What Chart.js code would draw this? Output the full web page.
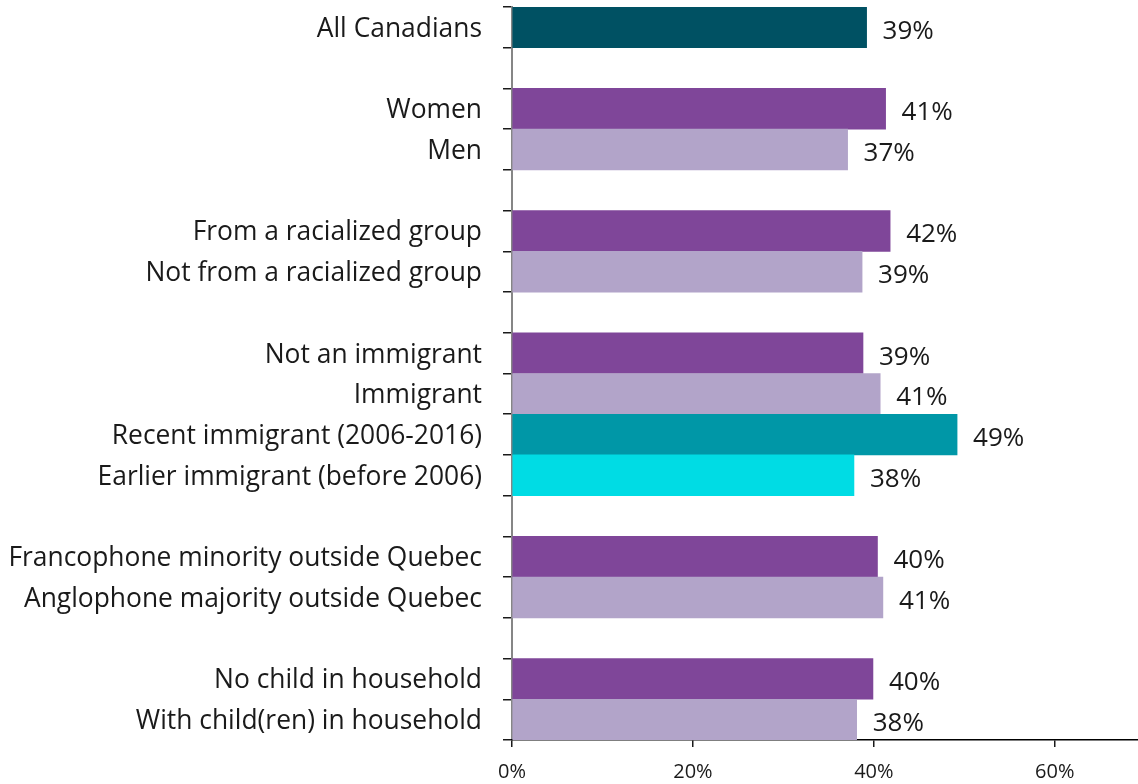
<!DOCTYPE html>
<html>
<head>
<meta charset="utf-8">
<script src="https://cdn.jsdelivr.net/npm/chart.js@4"></script>
<style>
  html, body { margin: 0; padding: 0; background: #fff; }
  #wrap { width: 1138px; height: 784px; position: relative; }
</style>
</head>
<body>
<div id="wrap"><canvas id="sharechart"></canvas></div>
<script>
// Rows top to bottom; empty labels are spacer rows between groups
var categories = [
    'All Canadians',
    '',
    'Women',
    'Men',
    '',
    'From a racialized group',
    'Not from a racialized group',
    '',
    'Not an immigrant',
    'Immigrant',
    'Recent immigrant (2006-2016)',
    'Earlier immigrant (before 2006)',
    '',
    'Francophone minority outside Quebec',
    'Anglophone majority outside Quebec',
    '',
    'No child in household',
    'With child(ren) in household'
];

// Percent of each group
var shares = [
    39.2, null,
    41.3, 37.1, null,
    41.8, 38.7, null,
    38.8, 40.7, 49.2, 37.8, null,
    40.4, 41.0, null,
    39.9, 38.1
];

var xTicks = [0, 20, 40, 60];

var barColours = [
    '#005163', null,
    '#7f4699', '#b2a4c9', null,
    '#7f4699', '#b2a4c9', null,
    '#7f4699', '#b2a4c9', '#0097a7', '#00dce4', null,
    '#7f4699', '#b2a4c9', null,
    '#7f4699', '#b2a4c9'
];

var FONT = "'Open Sans', 'Noto Sans', sans-serif";

// Writes "NN%" to the right of each bar
var valueLabels = {
    id: 'valueLabels',
    afterDatasetsDraw: function(chart) {
        var ctx = chart.ctx;
        var meta = chart.getDatasetMeta(0);
        ctx.save();
        ctx.font = '26px ' + FONT;
        ctx.fillStyle = '#1a1a1a';
        ctx.textAlign = 'left';
        ctx.textBaseline = 'middle';
        meta.data.forEach(function(bar, i) {
            var v = shares[i];
            if (v === null) return;
            ctx.fillText(Math.round(v) + '%', bar.x + 16, bar.y + 4);
        });
        ctx.restore();
    }
};

var ctx = document.getElementById('sharechart').getContext('2d');
new Chart(ctx, {
    type: 'bar',
    data: {
        labels: categories,
        datasets: [{
            data: shares,
            backgroundColor: barColours,
            barPercentage: 1.0,
            categoryPercentage: 1.0,
            borderWidth: 0
        }]
    },
    options: {
        indexAxis: 'y',
        responsive: true,
        maintainAspectRatio: false,
        animation: false,
        layout: { padding: { top: 7, right: 0, left: 0, bottom: 0 } },
        plugins: {
            legend: { display: false },
            tooltip: { enabled: false }
        },
        scales: {
            y: {
                grid: {
                    offset: true,
                    drawOnChartArea: false,
                    drawTicks: true,
                    tickLength: 9,
                    color: '#1a1a1a',
                    lineWidth: 1.5
                },
                border: { color: '#868686', width: 2 },
                ticks: {
                    font: { family: FONT, size: 26.4 },
                    color: '#1a1a1a',
                    padding: 21,
                    labelOffset: 2,
                    autoSkip: false
                },
                afterFit: function(scale) {
                    scale.width = 512;
                    // rows are offset, so no room is needed above/below for labels
                    scale.paddingTop = 0;
                    scale.paddingBottom = 0;
                }
            },
            x: {
                min: 0,
                max: 69.2,
                grid: {
                    drawOnChartArea: false,
                    drawTicks: true,
                    tickLength: 7,
                    color: '#1a1a1a',
                    lineWidth: 1.5
                },
                border: { color: '#000', width: 1.5 },
                ticks: {
                    stepSize: 20,
                    font: { family: FONT, size: 20 },
                    color: '#1a1a1a',
                    padding: 13,
                    maxRotation: 0,
                    callback: function(v) { return v + '%'; }
                },
                afterBuildTicks: function(scale) {
                    scale.ticks = xTicks.map(function(v) { return { value: v }; });
                },
                afterFit: function(scale) { scale.height = 44; }
            }
        }
    },
    plugins: [valueLabels]
});
</script>
</body>
</html>
